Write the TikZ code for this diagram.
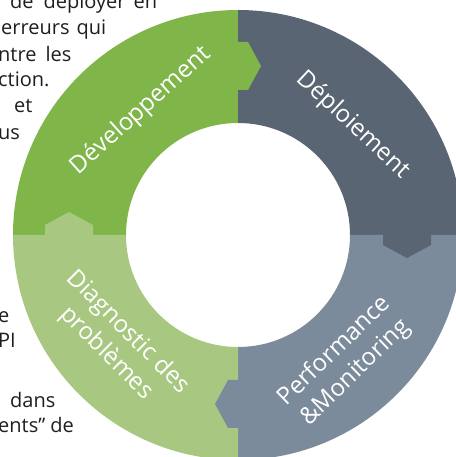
\documentclass[tikz,border=0pt]{standalone}
\usepackage{fontspec}
\setmainfont{Open Sans}
\pgfdeclarelayer{textlayer}
\pgfdeclarelayer{ringlayer}
\pgfsetlayers{textlayer,ringlayer,main}
\definecolor{devgreen}{HTML}{80B54A}
\definecolor{diaggreen}{HTML}{A8C882}
\definecolor{depslate}{HTML}{596573}
\definecolor{perfslate}{HTML}{7C8B9C}
\definecolor{bodytext}{HTML}{1E1E1E}
\tikzstyle{bodyline}=[anchor=base west,inner sep=0pt,text=bodytext,font=\fontsize{20}{20}\selectfont]
\tikzstyle{phase}=[text=white,align=center,inner sep=0pt,font=\fontsize{24}{30}\selectfont]

\begin{document}
\begin{tikzpicture}[x=1pt,y=1pt]
	\useasboundingbox (0,0) rectangle (455,457);
	\clip (0,0) rectangle (455,457);
	\begin{pgfonlayer}{textlayer}
		\node [style=bodyline] (t0) at (10, 448) {de\hspace{10pt}déployer\hspace{8pt}en};
		\node [style=bodyline] (t1) at (1, 422) {erreurs\hspace{7pt}qui};
		\node [style=bodyline] (t2) at (-2, 395) {ntre\hspace{9pt}les};
		\node [style=bodyline] (t3) at (-2, 370) {ction.};
		\node [style=bodyline] (t4) at (14, 344) {et};
		\node [style=bodyline] (t5) at (-2, 317) {us};
		\node [style=bodyline] (t6) at (-2, 134) {e};
		\node [style=bodyline] (t7) at (-2, 109) {PI};
		\node [style=bodyline] (t8) at (10, 49) {dans};
		\node [style=bodyline] (t9) at (-2, 24) {ents'' de};
	\end{pgfonlayer}
	\begin{pgfonlayer}{ringlayer}
		\begin{scope}[shift={(238,222)}]
			\foreach \a/\b/\c in {90/180/devgreen, 0/90/depslate, 270/360/perfslate, 180/270/diaggreen}
				\fill [\c] (\a:225) arc [start angle=\a, end angle=\b, radius=225]
					-- (\b:112) arc [start angle=\b, end angle=\a, radius=112] -- cycle;
			% tabs, each quadrant pokes into the next one clockwise
			\foreach \r/\c in {0/devgreen, -90/depslate, 180/perfslate, 90/diaggreen}
				\fill [\c, rotate=\r] (-1,145) -- (10,145) -- (23,169) -- (10,193) -- (-1,193) -- cycle;
		\end{scope}
	\end{pgfonlayer}
	\node [style=phase, rotate=42] (0) at (141, 346) {Développement};
	\node [style=phase, rotate=-43] (1) at (353, 332) {Déploiement};
	\node [style=phase, rotate=-45] (2) at (117, 114) {Diagnostic des\\problèmes};
	\node [style=phase, rotate=44] (3) at (345, 95) {Performance\\\&Monitoring};
\end{tikzpicture}
\end{document}
